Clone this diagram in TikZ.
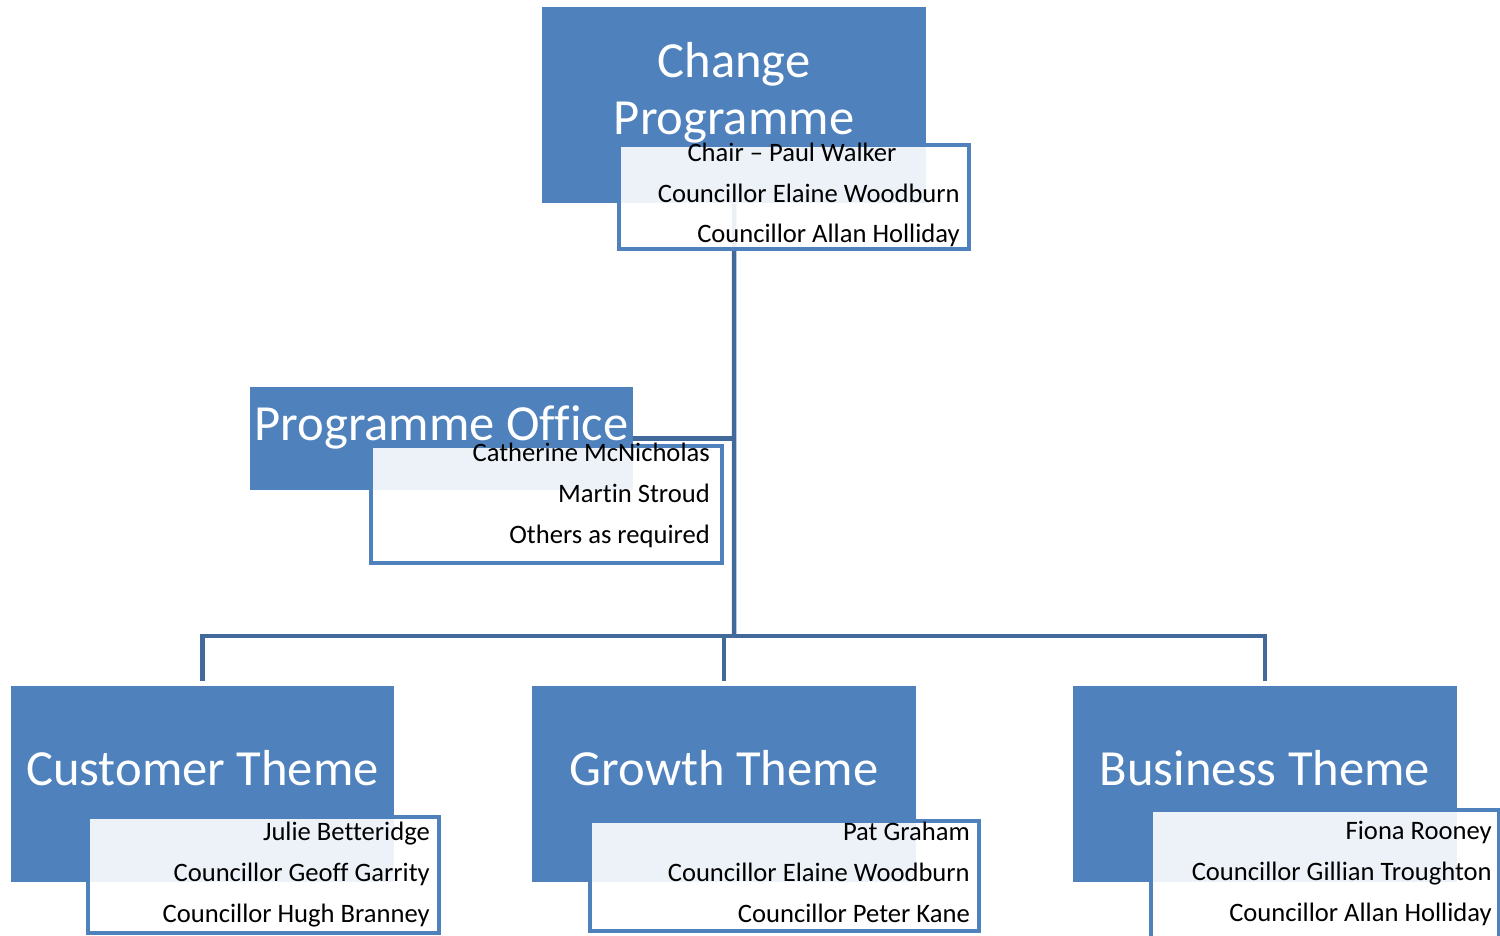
\documentclass[tikz,border=0pt]{standalone}
\usepackage{fontspec}
\setmainfont{Carlito}[Ligatures={NoCommon,TeX}]
\definecolor{themeblue}{HTML}{4F81BD}
\definecolor{linkblue}{HTML}{41699A}
\begin{document}
\begin{tikzpicture}[x=1pt,y=-1pt,
  titlebox/.style={fill=themeblue, draw=none, inner sep=0pt, anchor=north west},
  titletext/.style={text=white, font=\fontsize{50.6}{57}\selectfont, inner sep=0pt, align=center},
  memberbox/.style={fill=white, fill opacity=0.9, draw=themeblue, draw opacity=1,
    line width=4.2pt, inner sep=0pt, anchor=north west},
  member/.style={text=black, font=\fontsize{26.6}{30}\selectfont, inner sep=0pt, anchor=base east},
  conn/.style={draw=linkblue, line width=4.5pt, line join=miter}]
\useasboundingbox (0,0) rectangle (1500,936);
\clip (0,0) rectangle (1500,936);

% junction of the horizontal bus with the trunk
\coordinate (bus) at (734,636);

% coloured title boxes
\node[titlebox, minimum width=384pt, minimum height=196pt] (cp) at (542,7) {};
\node[titlebox, minimum width=383pt, minimum height=103pt] (po) at (250,387) {};
\node[titlebox, minimum width=383pt, minimum height=196pt] (ct) at (11,686) {};
\node[titlebox, minimum width=384pt, minimum height=196pt] (gt) at (532,686) {};
\node[titlebox, minimum width=384pt, minimum height=196pt] (bt) at (1073,686) {};

% connectors
\draw[conn] (cp.south) -- (bus);
\draw[conn] (po.east) -- (po.east -| bus);
\draw[conn] ([yshift=5pt]ct.north) -- (ct.north |- bus) -- (bt.north |- bus) -- ([yshift=5pt]bt.north);
\draw[conn] (gt.north |- bus) -- ([yshift=5pt]gt.north);

% repaint the boxes the connectors start from
\fill[themeblue] (cp.north west) rectangle (cp.south east);
\fill[themeblue] (po.north west) rectangle (po.south east);

% titles
\node[titletext, anchor=base] (cpt1) at (734,78) {Change};
\node[titletext, anchor=base] (cpt2) at (734,135) {Programme};
\node[titletext, anchor=base] (pot) at (441.5,440) {Programme Office};
\node[titletext, anchor=base] (ctt) at (202.5,785) {Customer Theme};
\node[titletext, anchor=base] (gtt) at (724,785) {Growth Theme};
\node[titletext, anchor=base] (btt) at (1265,785) {Business Theme};

% member panels
\node[memberbox, minimum width=350pt, minimum height=104pt] (cpm) at (617,143) {};
\node[memberbox, minimum width=351pt, minimum height=117pt] (pom) at (369,444) {};
\node[memberbox, minimum width=351pt, minimum height=116pt] (ctm) at (86,815) {};
\node[memberbox, minimum width=389pt, minimum height=110pt] (gtm) at (588,819) {};
\node[memberbox, minimum width=348pt, minimum height=160pt] (btm) at (1149,808) {};

% member names
\node[member, anchor=base] (cp1) at (792,162) {Chair – Paul Walker};
\node[member] (cp2) at (960,203) {Councillor Elaine Woodburn};
\node[member] (cp3) at (960,243) {Councillor Allan Holliday};

\node[member] (po1) at (710,461) {Catherine McNicholas};
\node[member] (po2) at (710,502) {Martin Stroud};
\node[member] (po3) at (710,543) {Others as required};

\node[member] (ct1) at (430,840) {Julie Betteridge};
\node[member] (ct2) at (430,881) {Councillor Geoff Garrity};
\node[member] (ct3) at (430,922) {Councillor Hugh Branney};

\node[member] (gt1) at (970,840) {Pat Graham};
\node[member] (gt2) at (970,881) {Councillor Elaine Woodburn};
\node[member] (gt3) at (970,922) {Councillor Peter Kane};

\node[member] (bt1) at (1492,839) {Fiona Rooney};
\node[member] (bt2) at (1492,880) {Councillor Gillian Troughton};
\node[member] (bt3) at (1492,921) {Councillor Allan Holliday};
\end{tikzpicture}
\end{document}
